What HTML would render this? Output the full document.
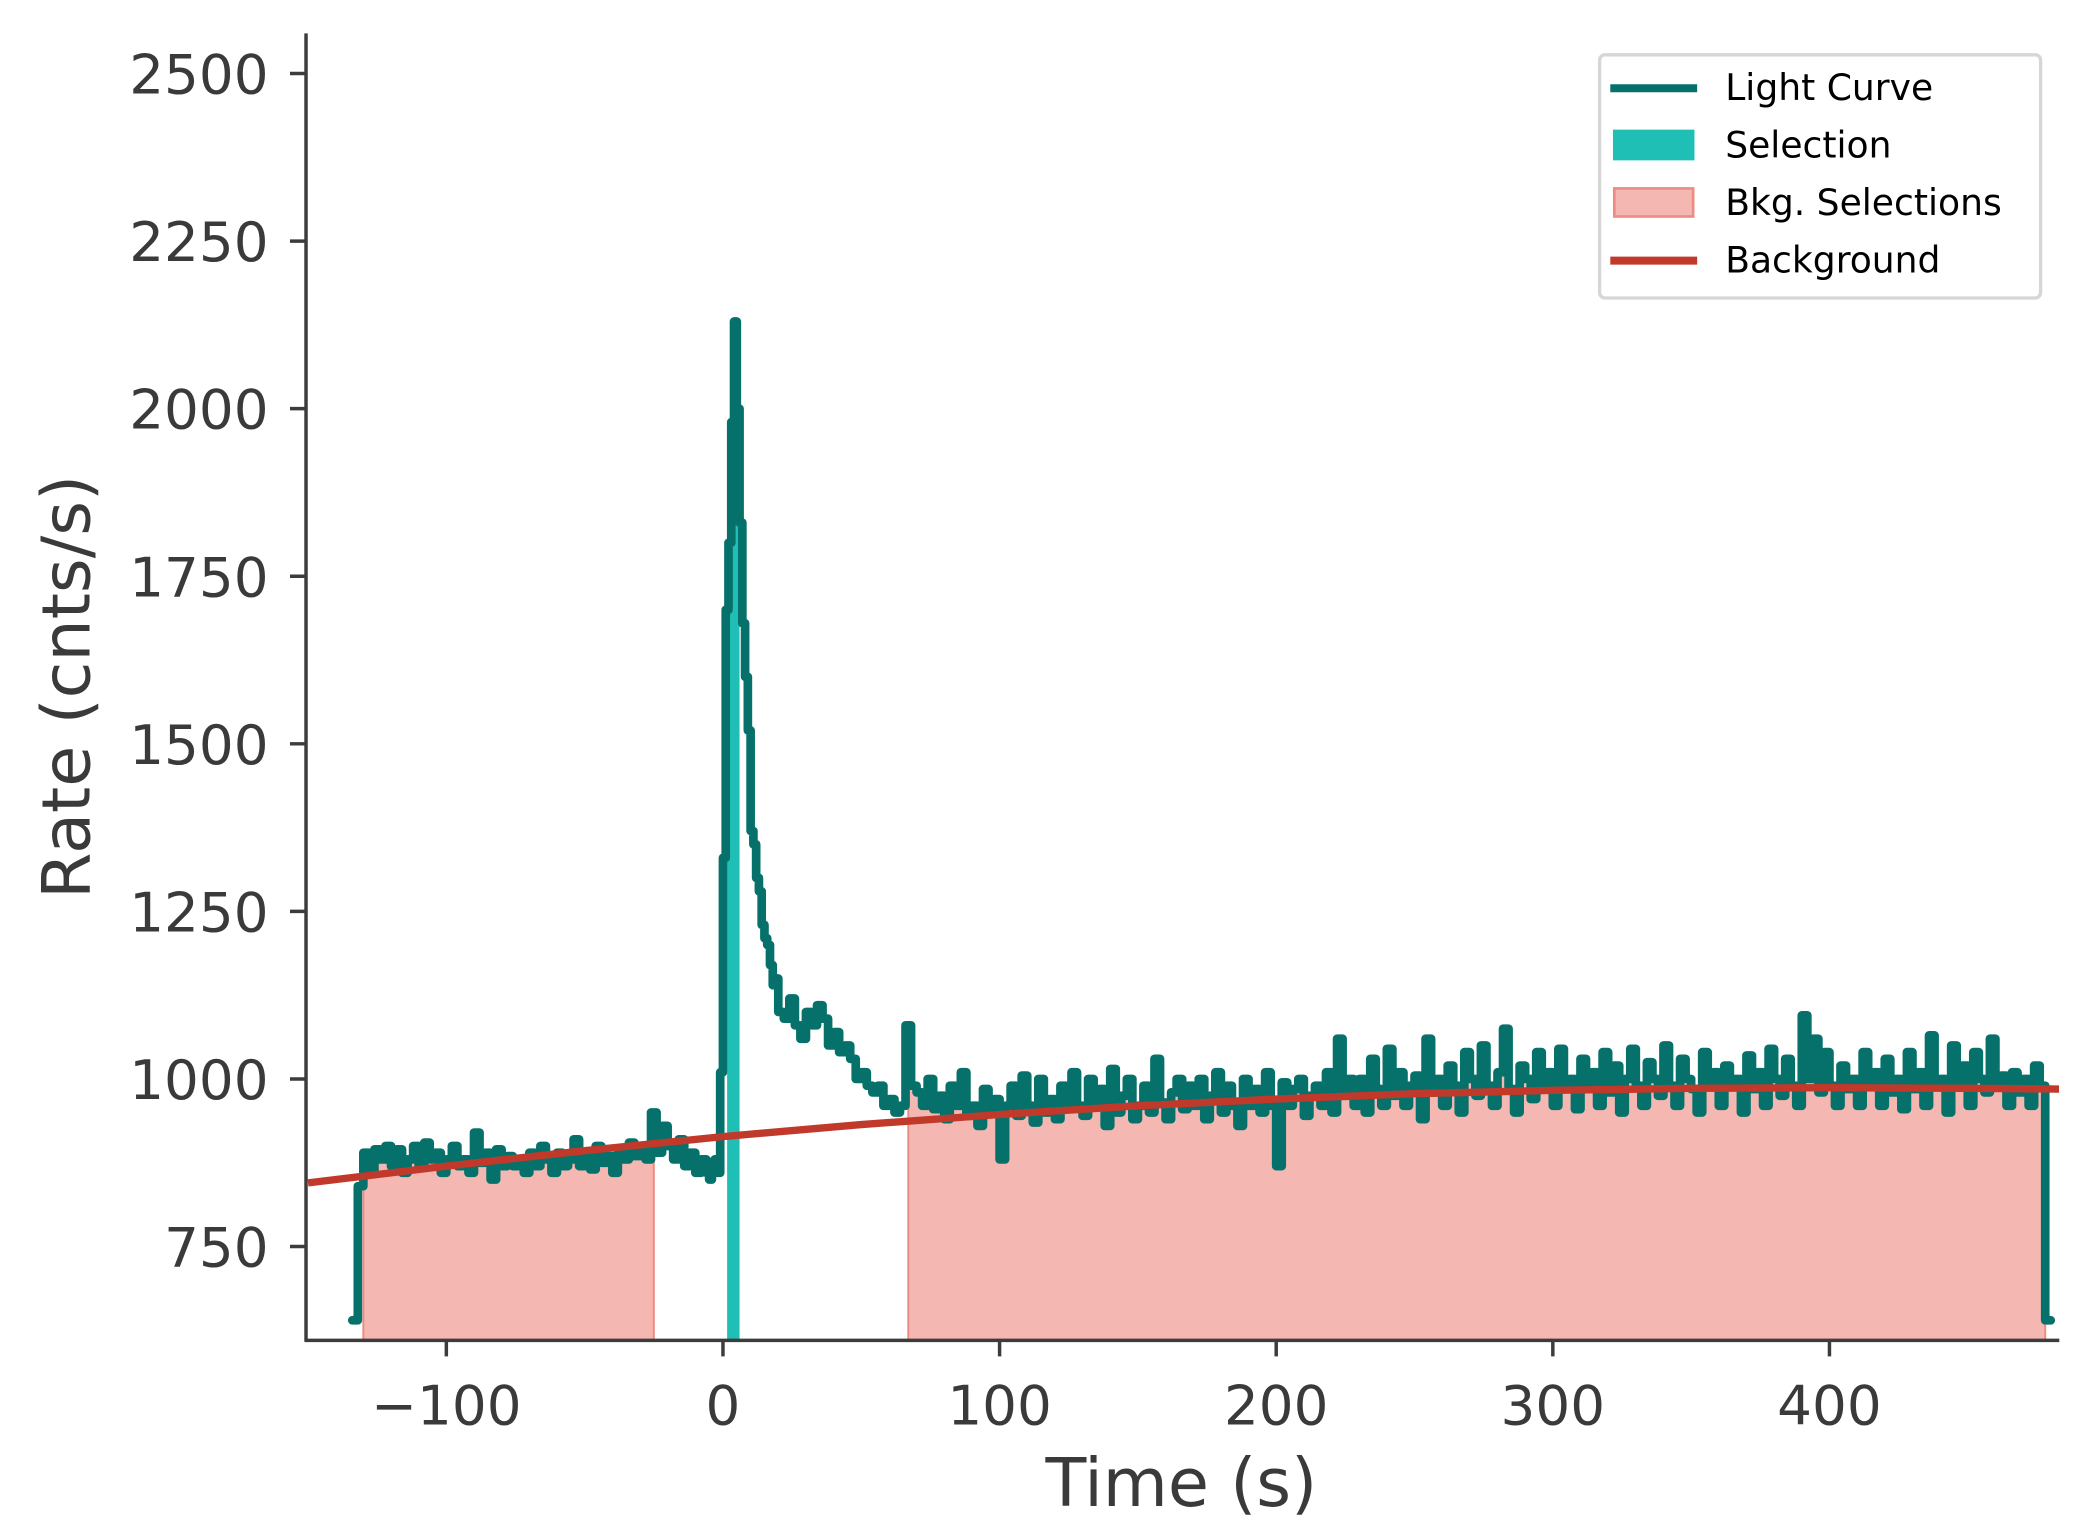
<!DOCTYPE html>
<html><head><meta charset="utf-8"><style>
html,body{margin:0;padding:0;background:#fff;width:2074px;height:1540px;overflow:hidden;}
svg{display:block;font-family:"DejaVu Sans","Liberation Sans",sans-serif;}
</style></head><body>
<svg id="chart" width="2074" height="1540" viewBox="0 0 1552 1152.4" xmlns="http://www.w3.org/2000/svg">
<defs><clipPath id="plotClip"><rect x="229" y="25" width="1312" height="978"/></clipPath></defs>
<g id="bg-sel" clip-path="url(#plotClip)"></g>
<g id="src-sel" clip-path="url(#plotClip)"></g>
<g id="lc" clip-path="url(#plotClip)"></g>
<g id="bkg" clip-path="url(#plotClip)"></g>
<g id="axes"></g>
<g>
  <rect x="1197" y="41" width="330" height="182" rx="4" fill="#fff" stroke="#d6d6d6" stroke-width="2.5"/>
  <g>
    <line x1="1205" y1="66" x2="1270" y2="66" stroke="#06716a" stroke-width="6"/>
    <text x="1291" y="75" font-size="27" fill="#000">Light Curve</text>
  </g>
  <g>
    <rect x="1207" y="97" width="61" height="23" fill="#20bfb5"/>
    <text x="1291" y="118" font-size="27" fill="#000">Selection</text>
  </g>
  <g>
    <rect x="1208" y="141" width="59" height="21" fill="#f5b7b1" stroke="#ec8d85" stroke-width="2"/>
    <text x="1291" y="161" font-size="27" fill="#000">Bkg. Selections</text>
  </g>
  <g>
    <line x1="1205" y1="195" x2="1270" y2="195" stroke="#c0392b" stroke-width="6"/>
    <text x="1291" y="204" font-size="27" fill="#000">Background</text>
  </g>
</g>
<text x="0" y="0" transform="translate(67,514) rotate(-90)" text-anchor="middle" font-size="50" fill="#3a3a3a">Rate (cnts/s)</text>
<text x="884" y="1127" text-anchor="middle" font-size="50" fill="#3a3a3a">Time (s)</text>
</svg>
<script>
// ---- data ----
const preStart = -134, preWidth = 2;
const preRates = [640,840,890,860,895,880,900,870,895,860,880,900,870,905,880,890,860,880,900,870,880,860,920,875,890,850,895,870,885,870,880,860,890,870,900,880,860,890,870,880,910,870,890,865,900,875,885,860,890,880,905,885,900,880,950,890,930,900,880,910,870,890,860,880];
const peakStart = -6, peakWidth = 1;
const peakRates = [860,850,870,880,860,1010,1330,1700,1800,1980,2130,2000,1830,1680,1600,1520,1370,1350,1300,1280,1230,1210,1200,1170,1140,1150];
const tailStart = 20, tailWidth = 2;
const tailRates = [1100,1090,1120,1080,1060,1100,1080,1110,1090,1050,1070,1040,1050,1030,1000,1010,990,980,990,960,970,950,960,1080,990];
const lateStart = 70, lateWidth = 2;
const lateRates = [980,960,1000,955,975,940,990,960,1010,945,960,930,985,950,970,880,960,990,945,1005,960,935,1000,950,970,940,990,955,1010,960,945,1000,960,985,930,1015,950,975,1000,940,960,990,950,1030,965,940,980,1000,955,990,960,1000,940,975,1010,950,990,960,930,1000,960,985,950,1010,960,870,995,960,985,1000,945,975,990,960,1010,950,1060,975,1000,960,1000,950,1030,985,960,1045,975,1010,960,990,1005,940,1060,980,1000,960,1020,990,950,1040,1000,975,1050,990,960,1010,1075,985,950,1020,1000,970,1040,990,1010,960,1045,985,1000,955,1030,990,1010,960,1040,980,1020,950,1000,1045,990,960,1025,1000,975,1050,990,960,1030,1000,985,950,1040,990,1010,960,1020,990,1000,950,1035,985,1010,960,1045,1000,975,1030,990,960,1095,1000,1060,980,1040,990,960,1020,985,1000,960,1040,990,1010,960,1030,980,1000,955,1040,985,1010,960,1065,990,1000,950,1050,990,1020,960,1040,1000,980,1060,990,1005,960,1010,980,1000,960,1020,990,640];
const bkgTimes = [-150,-100,-50,0,50,100,150,200,250,300,350,400,450,483];
const bkgValues = [845,870,893,914,932,947,960,970,978,983,986,987,986,985];
const bkgSelections = [[-130,-25],[67,478]];
const srcSelection = [1.5,6];
const xTicks = [-100,0,100,200,300,400];
const xTickLabels = ["\u2212100","0","100","200","300","400"];
const yTicks = [750,1000,1250,1500,1750,2000,2250,2500];
const yTickLabels = ["750","1000","1250","1500","1750","2000","2250","2500"];

// ---- scales ----
const X = t => 541 + t * 2.07;
const Y = v => 55 + (2500 - v) * 0.5016;
const NS = "http://www.w3.org/2000/svg";
function mk(tag, parent){ const e=document.createElementNS(NS,tag); parent.appendChild(e); return e; }

const bins = [];
function addSeg(start,w,arr){ arr.forEach((v,i)=>bins.push([start+i*w,start+(i+1)*w,v])); }
addSeg(preStart,preWidth,preRates);
addSeg(peakStart,peakWidth,peakRates);
addSeg(tailStart,tailWidth,tailRates);
addSeg(lateStart,lateWidth,lateRates);

function fillPath(a,b){
  let d="";
  bins.forEach(([t0,t1,v])=>{
    const l=Math.max(t0,a), r=Math.min(t1,b);
    if(r<=l) return;
    d += "L"+X(l)+","+Y(v)+"L"+X(r)+","+Y(v);
  });
  return "M"+X(a)+","+Y(0)+d+"L"+X(b)+","+Y(0)+"Z";
}
const bgG=document.getElementById('bg-sel');
bkgSelections.forEach((s,i)=>{
  const p=mk('path',bgG);
  p.setAttribute('d',fillPath(s[0],s[1]));
  p.setAttribute('fill','#f5b7b1');
  p.setAttribute('stroke','#ec8d85');
  p.setAttribute('stroke-width','1.5');
  
  
});
const srcG=document.getElementById('src-sel');
const sp=mk('path',srcG);
sp.setAttribute('d',fillPath(srcSelection[0],srcSelection[1]));
sp.setAttribute('fill','#20bfb5');



let d="";
bins.forEach(([t0,t1,v],i)=>{ d += (i?"L":"M")+X(t0)+","+Y(v)+"L"+X(t1)+","+Y(v); });
const lcG=document.getElementById('lc');
const lp=mk('path',lcG);
lp.setAttribute('d',d);
lp.setAttribute('fill','none');
lp.setAttribute('stroke','#06716a');
lp.setAttribute('stroke-width','6.5');
lp.setAttribute('stroke-linejoin','round');
lp.setAttribute('stroke-linecap','round');



const bkG=document.getElementById('bkg');
const bp=mk('path',bkG);
bp.setAttribute('d',bkgTimes.map((t,i)=>(i?"L":"M")+X(t)+","+Y(bkgValues[i])).join(""));
bp.setAttribute('fill','none');
bp.setAttribute('stroke','#c0392b');
bp.setAttribute('stroke-width','5.5');



const ax=document.getElementById('axes');
const sl=mk('line',ax);
sl.setAttribute('x1',229);sl.setAttribute('y1',25);sl.setAttribute('x2',229);sl.setAttribute('y2',1004);
sl.setAttribute('stroke','#3c3c3c');sl.setAttribute('stroke-width','2.6');


const sb=mk('line',ax);
sb.setAttribute('x1',228);sb.setAttribute('y1',1003);sb.setAttribute('x2',1541);sb.setAttribute('y2',1003);
sb.setAttribute('stroke','#3c3c3c');sb.setAttribute('stroke-width','2.6');


yTicks.forEach((v,i)=>{
  const l=mk('line',ax);
  l.setAttribute('x1',217);l.setAttribute('x2',229);l.setAttribute('y1',Y(v));l.setAttribute('y2',Y(v));
  l.setAttribute('stroke','#3c3c3c');l.setAttribute('stroke-width','2.6');
  
  
  const t=mk('text',ax);
  t.setAttribute('x',201);t.setAttribute('y',Y(v)+15);t.setAttribute('text-anchor','end');
  t.setAttribute('font-size','41');t.setAttribute('fill','#3a3a3a');
  t.textContent=yTickLabels[i];
  
  
});
xTicks.forEach((v,i)=>{
  const l=mk('line',ax);
  l.setAttribute('x1',X(v));l.setAttribute('x2',X(v));l.setAttribute('y1',1003);l.setAttribute('y2',1015);
  l.setAttribute('stroke','#3c3c3c');l.setAttribute('stroke-width','2.6');
  
  
  const t=mk('text',ax);
  t.setAttribute('x',X(v));t.setAttribute('y',1066);t.setAttribute('text-anchor','middle');
  t.setAttribute('font-size','41');t.setAttribute('fill','#3a3a3a');
  t.textContent=xTickLabels[i];
  
  
});
</script>
</body></html>
